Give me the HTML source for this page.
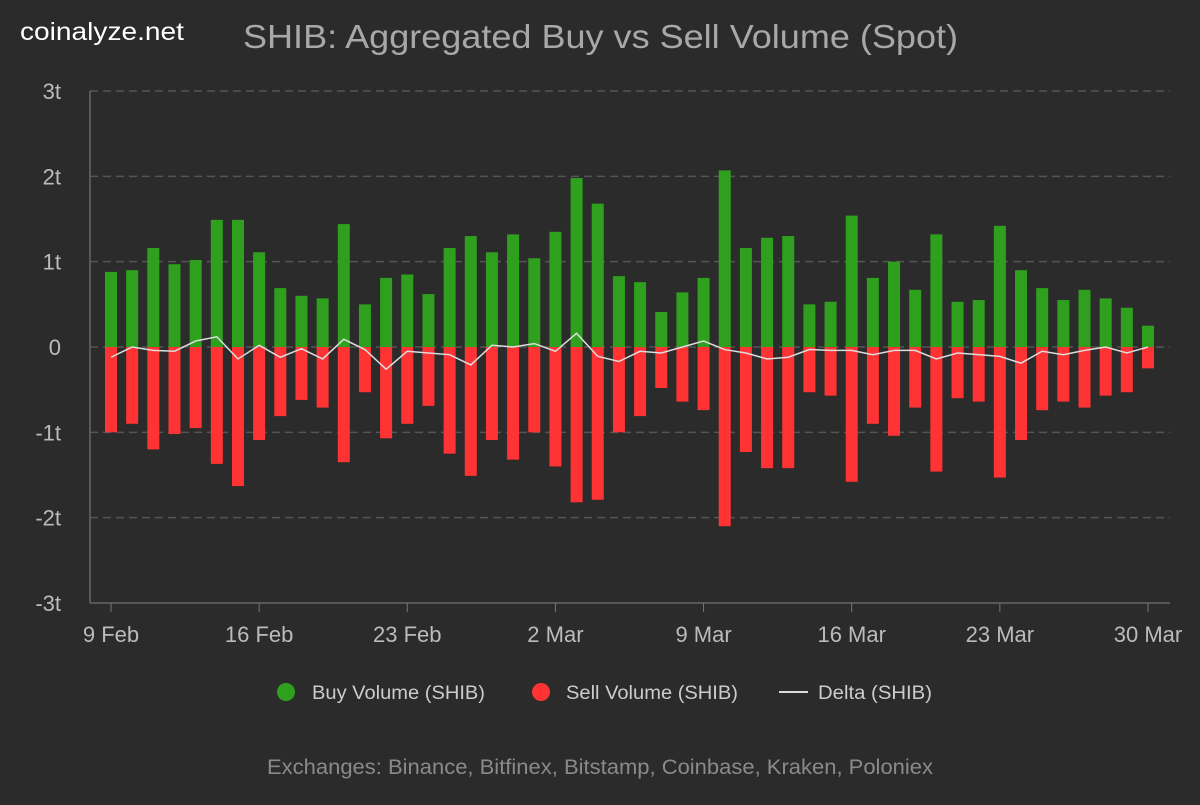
<!DOCTYPE html>
<html><head><meta charset="utf-8"><style>
body{margin:0;background:#2b2b2b;width:1200px;height:800px;overflow:hidden;font-family:"Liberation Sans",sans-serif}
</style></head><body>
<svg id="c" width="1200" height="800" xmlns="http://www.w3.org/2000/svg" font-family="Liberation Sans, sans-serif">
<rect width="1200" height="800" fill="#2b2b2b"/>
<text x="20" y="40" fill="#ffffff" font-size="25" textLength="164" lengthAdjust="spacingAndGlyphs">coinalyze.net</text>
<text x="243" y="48" fill="#a8a8a8" font-size="33" textLength="715" lengthAdjust="spacingAndGlyphs">SHIB: Aggregated Buy vs Sell Volume (Spot)</text>
<text x="267" y="774" fill="#8a8a8a" font-size="21" textLength="666" lengthAdjust="spacingAndGlyphs">Exchanges: Binance, Bitfinex, Bitstamp, Coinbase, Kraken, Poloniex</text>
<circle cx="286" cy="692" r="9" fill="#2ea01e"/>
<text x="312" y="699" fill="#cccccc" font-size="19" textLength="173" lengthAdjust="spacingAndGlyphs">Buy Volume (SHIB)</text>
<circle cx="541" cy="692" r="9" fill="#ff3333"/>
<text x="566" y="699" fill="#cccccc" font-size="19" textLength="172" lengthAdjust="spacingAndGlyphs">Sell Volume (SHIB)</text>
<line x1="779" y1="692" x2="808" y2="692" stroke="#dddddd" stroke-width="2"/>
<text x="818" y="699" fill="#cccccc" font-size="19" textLength="114" lengthAdjust="spacingAndGlyphs">Delta (SHIB)</text>
<g id="g"></g>
</svg>
<script>
var buy=[0.88,0.9,1.16,0.97,1.02,1.49,1.49,1.11,0.69,0.6,0.57,1.44,0.5,0.81,0.85,0.62,1.16,1.3,1.11,1.32,1.04,1.35,1.98,1.68,0.83,0.76,0.41,0.64,0.81,2.07,1.16,1.28,1.3,0.5,0.53,1.54,0.81,1.0,0.67,1.32,0.53,0.55,1.42,0.9,0.69,0.55,0.67,0.57,0.46,0.25];
var sell=[1.0,0.9,1.2,1.02,0.95,1.37,1.63,1.09,0.81,0.62,0.71,1.35,0.53,1.07,0.9,0.69,1.25,1.51,1.09,1.32,1.0,1.4,1.82,1.79,1.0,0.81,0.48,0.64,0.74,2.1,1.23,1.42,1.42,0.53,0.57,1.58,0.9,1.04,0.71,1.46,0.6,0.64,1.53,1.09,0.74,0.64,0.71,0.57,0.53,0.25];
var Y0=347,S=85.33,X0=111,D=(1148-111)/49,h='';
for(var i=-3;i<=3;i++){var y=Y0-i*S;
 if(i!=-3)h+='<line x1="90" x2="1170" y1="'+y+'" y2="'+y+'" stroke="#555" stroke-dasharray="8,5" stroke-width="1.5"/>';
 h+='<text x="61" y="'+(y+8)+'" fill="#bbbbbb" font-size="22" text-anchor="end">'+(i==0?'0':i+'t')+'</text>';}
h+='<line x1="90" x2="90" y1="91" y2="603" stroke="#666" stroke-width="1.5"/>';
h+='<line x1="90" x2="1170" y1="603" y2="603" stroke="#666" stroke-width="1.5"/>';
var labs=['9 Feb','16 Feb','23 Feb','2 Mar','9 Mar','16 Mar','23 Mar','30 Mar'];
for(var k=0;k<8;k++){var x=X0+k*7*D;h+='<line x1="'+x+'" x2="'+x+'" y1="603" y2="612" stroke="#777"/>';
 h+='<text x="'+x+'" y="642" fill="#bbbbbb" font-size="22" text-anchor="middle">'+labs[k]+'</text>';}
var pts=[];
for(var j=0;j<50;j++){var x=X0+j*D;
 h+='<rect x="'+(x-6)+'" y="'+(Y0-buy[j]*S)+'" width="12" height="'+(buy[j]*S)+'" fill="#2ea01e"/>';
 h+='<rect x="'+(x-6)+'" y="'+Y0+'" width="12" height="'+(sell[j]*S)+'" fill="#ff3333"/>';
 pts.push(x+','+(Y0-(buy[j]-sell[j])*S));}
h+='<polyline points="'+pts.join(' ')+'" fill="none" stroke="#dddddd" stroke-width="1.5"/>';
document.getElementById('g').innerHTML=h;
</script>
</body></html>
